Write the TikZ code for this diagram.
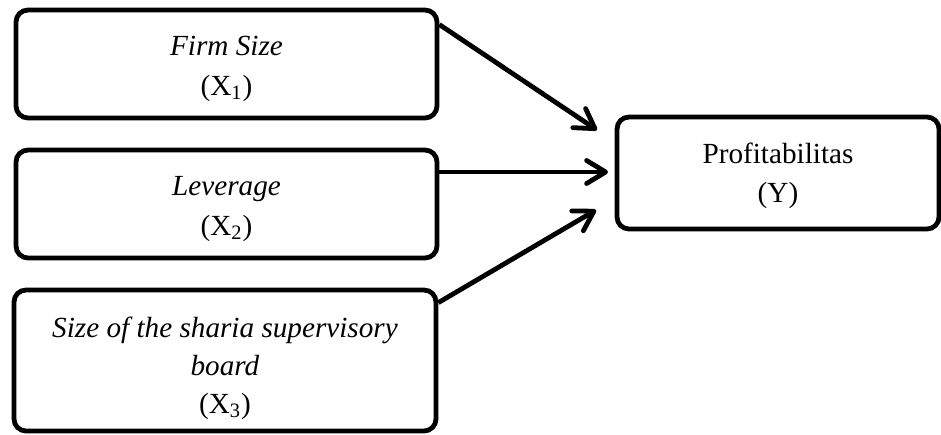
\documentclass[tikz,border=0pt]{standalone}
\usepackage{fontspec}
\setmainfont{Liberation Serif}
\usetikzlibrary{arrows.meta,calc}
\begin{document}
\begin{tikzpicture}[x=0.5pt,y=-0.5pt,
  box/.style={draw,line width=2.4pt,rounded corners=6pt,inner sep=0pt},
  txt/.style={align=center,inner sep=0pt,font=\fontsize{14.6}{19.8}\selectfont},
  arr/.style={line width=2.4pt,-{Straight Barb[length=9.5pt,width=11.5pt,line width=2.4pt,round]}}]
\useasboundingbox (0,0) rectangle (941,434);
\node[box,minimum width=210.5pt,minimum height=54pt] (b1) at (226.5,64) {};
\node[txt] (t1) at (226.5,69) {\textit{Firm Size}\\(X\textsubscript{1})};
\node[box,minimum width=210.5pt,minimum height=54pt] (b2) at (226.5,204) {};
\node[txt] (t2) at (226.5,209) {\textit{Leverage}\\(X\textsubscript{2})};
\node[box,minimum width=211pt,minimum height=70.5pt] (b3) at (225,360.5) {};
\node[txt,font=\fontsize{14.6}{19}\selectfont] (t3) at (225,368)
  {\textit{Size of the sharia supervisory}\\\textit{board}\\(X\textsubscript{3})};
\node[box,minimum width=161pt,minimum height=56pt] (y) at (778,173) {};
\node[txt] (ty) at (778,176) {Profitabilitas\\(Y)};
\coordinate (e1) at (597,130);
\coordinate (e2) at (608,172);
\coordinate (e3) at (596,210);
\draw[arr] ($(b1.north east)+(0,17)$) -- (e1);
\draw[arr] ($(b2.east)+(0,-32)$) -- (e2);
\draw[arr] ($(b3.north east)+(0,15)$) -- (e3);
\end{tikzpicture}
\end{document}
